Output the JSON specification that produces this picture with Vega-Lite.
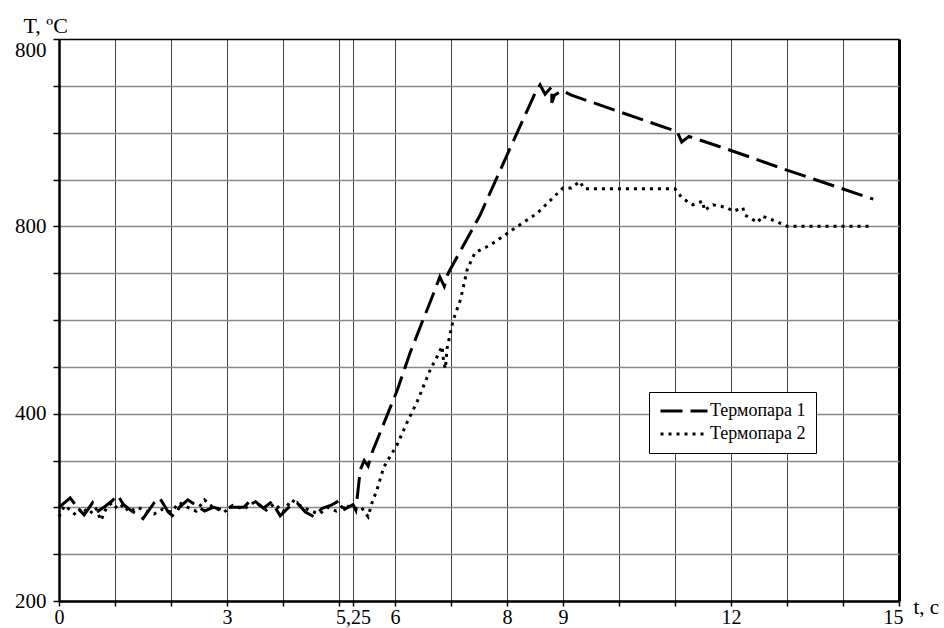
{
  "$schema": "https://vega.github.io/schema/vega-lite/v6.json",
  "autosize": {"type": "none"},
  "padding": {"left": 59, "top": 39, "right": 45, "bottom": 27},
  "width": 840,
  "height": 562,
  "background": "white",
  "config": {
    "view": {"stroke": null},
    "font": "Liberation Serif, DejaVu Serif, serif"
  },
  "data": {
    "values": [
      {"s": "Термопара 1", "i": 1, "t": 0, "T": 300},
      {"s": "Термопара 1", "i": 2, "t": 0.1, "T": 305},
      {"s": "Термопара 1", "i": 3, "t": 0.2, "T": 310},
      {"s": "Термопара 1", "i": 4, "t": 0.35, "T": 298},
      {"s": "Термопара 1", "i": 5, "t": 0.45, "T": 292},
      {"s": "Термопара 1", "i": 6, "t": 0.6, "T": 305},
      {"s": "Термопара 1", "i": 7, "t": 0.7, "T": 296},
      {"s": "Термопара 1", "i": 8, "t": 0.8, "T": 300},
      {"s": "Термопара 1", "i": 9, "t": 0.95, "T": 307},
      {"s": "Термопара 1", "i": 10, "t": 1.05, "T": 313},
      {"s": "Термопара 1", "i": 11, "t": 1.15, "T": 303},
      {"s": "Термопара 1", "i": 12, "t": 1.3, "T": 296},
      {"s": "Термопара 1", "i": 13, "t": 1.5, "T": 288},
      {"s": "Термопара 1", "i": 14, "t": 1.7, "T": 305},
      {"s": "Термопара 1", "i": 15, "t": 1.8, "T": 310},
      {"s": "Термопара 1", "i": 16, "t": 1.95, "T": 295},
      {"s": "Термопара 1", "i": 17, "t": 2.05, "T": 290},
      {"s": "Термопара 1", "i": 18, "t": 2.15, "T": 300},
      {"s": "Термопара 1", "i": 19, "t": 2.3, "T": 308},
      {"s": "Термопара 1", "i": 20, "t": 2.45, "T": 302},
      {"s": "Термопара 1", "i": 21, "t": 2.6, "T": 296},
      {"s": "Термопара 1", "i": 22, "t": 2.75, "T": 300},
      {"s": "Термопара 1", "i": 23, "t": 2.9, "T": 298},
      {"s": "Термопара 1", "i": 24, "t": 3.05, "T": 300},
      {"s": "Термопара 1", "i": 25, "t": 3.3, "T": 300},
      {"s": "Термопара 1", "i": 26, "t": 3.45, "T": 309},
      {"s": "Термопара 1", "i": 27, "t": 3.65, "T": 299},
      {"s": "Термопара 1", "i": 28, "t": 3.8, "T": 306},
      {"s": "Термопара 1", "i": 29, "t": 3.95, "T": 291},
      {"s": "Термопара 1", "i": 30, "t": 4.1, "T": 300},
      {"s": "Термопара 1", "i": 31, "t": 4.25, "T": 305},
      {"s": "Термопара 1", "i": 32, "t": 4.4, "T": 295},
      {"s": "Термопара 1", "i": 33, "t": 4.55, "T": 290},
      {"s": "Термопара 1", "i": 34, "t": 4.7, "T": 299},
      {"s": "Термопара 1", "i": 35, "t": 4.85, "T": 302},
      {"s": "Термопара 1", "i": 36, "t": 5.0, "T": 307},
      {"s": "Термопара 1", "i": 37, "t": 5.1, "T": 298},
      {"s": "Термопара 1", "i": 38, "t": 5.25, "T": 303},
      {"s": "Термопара 1", "i": 39, "t": 5.3, "T": 297},
      {"s": "Термопара 1", "i": 40, "t": 5.38, "T": 340},
      {"s": "Термопара 1", "i": 41, "t": 5.45, "T": 350},
      {"s": "Термопара 1", "i": 42, "t": 5.52, "T": 344},
      {"s": "Термопара 1", "i": 43, "t": 5.6, "T": 360},
      {"s": "Термопара 1", "i": 44, "t": 6.04, "T": 425},
      {"s": "Термопара 1", "i": 45, "t": 6.27, "T": 465},
      {"s": "Термопара 1", "i": 46, "t": 6.48, "T": 497},
      {"s": "Термопара 1", "i": 47, "t": 6.66, "T": 524},
      {"s": "Термопара 1", "i": 48, "t": 6.8, "T": 546},
      {"s": "Термопара 1", "i": 49, "t": 6.88, "T": 536},
      {"s": "Термопара 1", "i": 50, "t": 6.95, "T": 550},
      {"s": "Термопара 1", "i": 51, "t": 7.52, "T": 612},
      {"s": "Термопара 1", "i": 52, "t": 8.0, "T": 676},
      {"s": "Термопара 1", "i": 53, "t": 8.5, "T": 742},
      {"s": "Термопара 1", "i": 54, "t": 8.59, "T": 751},
      {"s": "Термопара 1", "i": 55, "t": 8.68, "T": 741},
      {"s": "Термопара 1", "i": 56, "t": 8.8, "T": 749},
      {"s": "Термопара 1", "i": 57, "t": 8.8, "T": 732},
      {"s": "Термопара 1", "i": 58, "t": 8.85, "T": 740},
      {"s": "Термопара 1", "i": 59, "t": 8.98, "T": 745},
      {"s": "Термопара 1", "i": 60, "t": 9.15, "T": 740},
      {"s": "Термопара 1", "i": 61, "t": 11.04, "T": 701},
      {"s": "Термопара 1", "i": 62, "t": 11.12, "T": 690},
      {"s": "Термопара 1", "i": 63, "t": 11.25, "T": 696},
      {"s": "Термопара 1", "i": 64, "t": 12.0, "T": 681},
      {"s": "Термопара 1", "i": 65, "t": 13.0, "T": 660},
      {"s": "Термопара 1", "i": 66, "t": 14.54, "T": 629},
      {"s": "Термопара 2", "i": 1, "t": 0, "T": 290},
      {"s": "Термопара 2", "i": 2, "t": 0.1, "T": 302},
      {"s": "Термопара 2", "i": 3, "t": 0.2, "T": 297},
      {"s": "Термопара 2", "i": 4, "t": 0.3, "T": 292},
      {"s": "Термопара 2", "i": 5, "t": 0.4, "T": 300},
      {"s": "Термопара 2", "i": 6, "t": 0.55, "T": 293},
      {"s": "Термопара 2", "i": 7, "t": 0.65, "T": 300},
      {"s": "Термопара 2", "i": 8, "t": 0.75, "T": 286},
      {"s": "Термопара 2", "i": 9, "t": 0.85, "T": 300},
      {"s": "Термопара 2", "i": 10, "t": 0.95, "T": 305},
      {"s": "Термопара 2", "i": 11, "t": 1.05, "T": 298},
      {"s": "Термопара 2", "i": 12, "t": 1.15, "T": 303},
      {"s": "Термопара 2", "i": 13, "t": 1.25, "T": 295},
      {"s": "Термопара 2", "i": 14, "t": 1.4, "T": 300},
      {"s": "Термопара 2", "i": 15, "t": 1.55, "T": 296},
      {"s": "Термопара 2", "i": 16, "t": 1.7, "T": 293},
      {"s": "Термопара 2", "i": 17, "t": 1.85, "T": 298},
      {"s": "Термопара 2", "i": 18, "t": 2.0, "T": 295},
      {"s": "Термопара 2", "i": 19, "t": 2.15, "T": 305},
      {"s": "Термопара 2", "i": 20, "t": 2.3, "T": 300},
      {"s": "Термопара 2", "i": 21, "t": 2.45, "T": 296},
      {"s": "Термопара 2", "i": 22, "t": 2.6, "T": 308},
      {"s": "Термопара 2", "i": 23, "t": 2.75, "T": 300},
      {"s": "Термопара 2", "i": 24, "t": 2.95, "T": 295},
      {"s": "Термопара 2", "i": 25, "t": 3.1, "T": 302},
      {"s": "Термопара 2", "i": 26, "t": 3.3, "T": 298},
      {"s": "Термопара 2", "i": 27, "t": 3.5, "T": 306},
      {"s": "Термопара 2", "i": 28, "t": 3.7, "T": 297},
      {"s": "Термопара 2", "i": 29, "t": 3.85, "T": 304},
      {"s": "Термопара 2", "i": 30, "t": 4.0, "T": 295},
      {"s": "Термопара 2", "i": 31, "t": 4.15, "T": 308},
      {"s": "Термопара 2", "i": 32, "t": 4.3, "T": 302},
      {"s": "Термопара 2", "i": 33, "t": 4.5, "T": 296},
      {"s": "Термопара 2", "i": 34, "t": 4.65, "T": 293},
      {"s": "Термопара 2", "i": 35, "t": 4.8, "T": 300},
      {"s": "Термопара 2", "i": 36, "t": 4.95, "T": 296},
      {"s": "Термопара 2", "i": 37, "t": 5.1, "T": 303},
      {"s": "Термопара 2", "i": 38, "t": 5.25, "T": 298},
      {"s": "Термопара 2", "i": 39, "t": 5.4, "T": 300},
      {"s": "Термопара 2", "i": 40, "t": 5.52, "T": 290},
      {"s": "Термопара 2", "i": 41, "t": 5.59, "T": 305},
      {"s": "Термопара 2", "i": 42, "t": 5.68, "T": 319},
      {"s": "Термопара 2", "i": 43, "t": 5.8, "T": 343},
      {"s": "Термопара 2", "i": 44, "t": 6.04, "T": 367},
      {"s": "Термопара 2", "i": 45, "t": 6.21, "T": 390},
      {"s": "Термопара 2", "i": 46, "t": 6.39, "T": 412},
      {"s": "Термопара 2", "i": 47, "t": 6.63, "T": 447},
      {"s": "Термопара 2", "i": 48, "t": 6.77, "T": 463},
      {"s": "Термопара 2", "i": 49, "t": 6.84, "T": 472},
      {"s": "Термопара 2", "i": 50, "t": 6.87, "T": 455},
      {"s": "Термопара 2", "i": 51, "t": 6.9, "T": 448},
      {"s": "Термопара 2", "i": 52, "t": 6.93, "T": 470},
      {"s": "Термопара 2", "i": 53, "t": 7.04, "T": 500},
      {"s": "Термопара 2", "i": 54, "t": 7.17, "T": 522},
      {"s": "Термопара 2", "i": 55, "t": 7.29, "T": 554},
      {"s": "Термопара 2", "i": 56, "t": 7.43, "T": 572},
      {"s": "Термопара 2", "i": 57, "t": 7.7, "T": 580},
      {"s": "Термопара 2", "i": 58, "t": 8.09, "T": 596},
      {"s": "Термопара 2", "i": 59, "t": 8.54, "T": 614},
      {"s": "Термопара 2", "i": 60, "t": 9.0, "T": 641},
      {"s": "Термопара 2", "i": 61, "t": 9.15, "T": 641},
      {"s": "Термопара 2", "i": 62, "t": 9.3, "T": 648},
      {"s": "Термопара 2", "i": 63, "t": 9.38, "T": 640},
      {"s": "Термопара 2", "i": 64, "t": 11.0, "T": 640},
      {"s": "Термопара 2", "i": 65, "t": 11.13, "T": 630},
      {"s": "Термопара 2", "i": 66, "t": 11.32, "T": 623},
      {"s": "Термопара 2", "i": 67, "t": 11.5, "T": 627},
      {"s": "Термопара 2", "i": 68, "t": 11.52, "T": 617},
      {"s": "Термопара 2", "i": 69, "t": 11.68, "T": 623},
      {"s": "Термопара 2", "i": 70, "t": 11.93, "T": 620},
      {"s": "Термопара 2", "i": 71, "t": 12.04, "T": 616},
      {"s": "Термопара 2", "i": 72, "t": 12.21, "T": 620},
      {"s": "Термопара 2", "i": 73, "t": 12.25, "T": 612},
      {"s": "Термопара 2", "i": 74, "t": 12.48, "T": 604},
      {"s": "Термопара 2", "i": 75, "t": 12.55, "T": 611},
      {"s": "Термопара 2", "i": 76, "t": 12.82, "T": 605},
      {"s": "Термопара 2", "i": 77, "t": 13.0, "T": 600},
      {"s": "Термопара 2", "i": 78, "t": 14.54, "T": 600}
    ]
  },
  "mark": {"type": "line", "color": "black", "strokeWidth": 3, "strokeCap": "butt"},
  "encoding": {
    "x": {
      "field": "t",
      "type": "quantitative",
      "scale": {"domain": [0, 15], "nice": false, "zero": false},
      "axis": {
        "values": [0, 1, 2, 3, 4, 5, 5.25, 6, 7, 8, 9, 10, 11, 12, 13, 14, 15],
        "labelExpr": "datum.value == 5.25 ? '5,25' : (indexof([0,3,6,8,9,12,15], datum.value) >= 0 ? '' + datum.value : '')",
        "labelOverlap": false,
        "labelFlush": false,
        "labelFont": "Liberation Serif, DejaVu Serif, serif",
        "labelFontSize": 20,
        "labelColor": "black",
        "labelPadding": 1,
        "labelOffset": {"condition": {"test": "datum.value == 15", "value": -6}, "value": 0},
        "domainColor": "black",
        "domainWidth": 2.5,
        "tickColor": "black",
        "tickWidth": 1.5,
        "tickSize": 5,
        "grid": true,
        "gridColor": {"condition": {"test": "datum.value == 15", "value": "black"}, "value": "#444444"},
        "gridWidth": {"condition": {"test": "datum.value == 15", "value": 3}, "value": 1},
        "gridOpacity": 1,
        "title": "t, c",
        "titleFont": "Liberation Serif, DejaVu Serif, serif",
        "titleFontSize": 21,
        "titleFontWeight": "normal",
        "titleColor": "black",
        "titleX": 854,
        "titleY": 12,
        "titleAlign": "left",
        "titleBaseline": "alphabetic"
      }
    },
    "y": {
      "field": "T",
      "type": "quantitative",
      "scale": {"domain": [200, 800], "nice": false, "zero": false},
      "axis": {
        "values": [200, 250, 300, 350, 400, 450, 500, 550, 600, 650, 700, 750, 800],
        "labelExpr": "datum.value == 200 ? '200' : datum.value == 400 ? '400' : (datum.value == 600 || datum.value == 800) ? '800' : ''",
        "labelOverlap": false,
        "labelFlush": false,
        "labelFont": "Liberation Serif, DejaVu Serif, serif",
        "labelFontSize": 21,
        "labelColor": "black",
        "labelPadding": 7,
        "labelOffset": {"condition": {"test": "datum.value == 800", "value": 11}, "value": 0},
        "domainColor": "black",
        "domainWidth": 2.5,
        "tickColor": "black",
        "tickWidth": 1.5,
        "tickSize": 6,
        "grid": true,
        "gridColor": {"condition": {"test": "datum.value == 800", "value": "black"}, "value": "#888888"},
        "gridWidth": {"condition": {"test": "datum.value == 800", "value": 1.5}, "value": 1.3},
        "gridOpacity": 1,
        "title": "T, ºC",
        "titleAngle": 0,
        "titleFont": "Liberation Serif, DejaVu Serif, serif",
        "titleFontSize": 22,
        "titleFontWeight": "normal",
        "titleColor": "black",
        "titleX": -36,
        "titleY": -7,
        "titleAlign": "left",
        "titleBaseline": "alphabetic"
      }
    },
    "strokeDash": {
      "field": "s",
      "type": "nominal",
      "scale": {"domain": ["Термопара 1", "Термопара 2"], "range": [[22, 8], [3, 5]]},
      "legend": {
        "orient": "none",
        "legendX": 590,
        "legendY": 353,
        "title": null,
        "symbolType": "M-1,0H5.27",
        "symbolSize": 225,
        "symbolStrokeWidth": 3,
        "symbolStrokeColor": "black",
        "symbolFillColor": "transparent",
        "labelOffset": 33,
        "labelFont": "Liberation Serif, DejaVu Serif, serif",
        "labelFontSize": 18,
        "labelColor": "black",
        "strokeColor": "black",
        "fillColor": "white",
        "padding": 10,
        "rowPadding": 5
      }
    },
    "order": {"field": "i", "type": "quantitative"}
  }
}
